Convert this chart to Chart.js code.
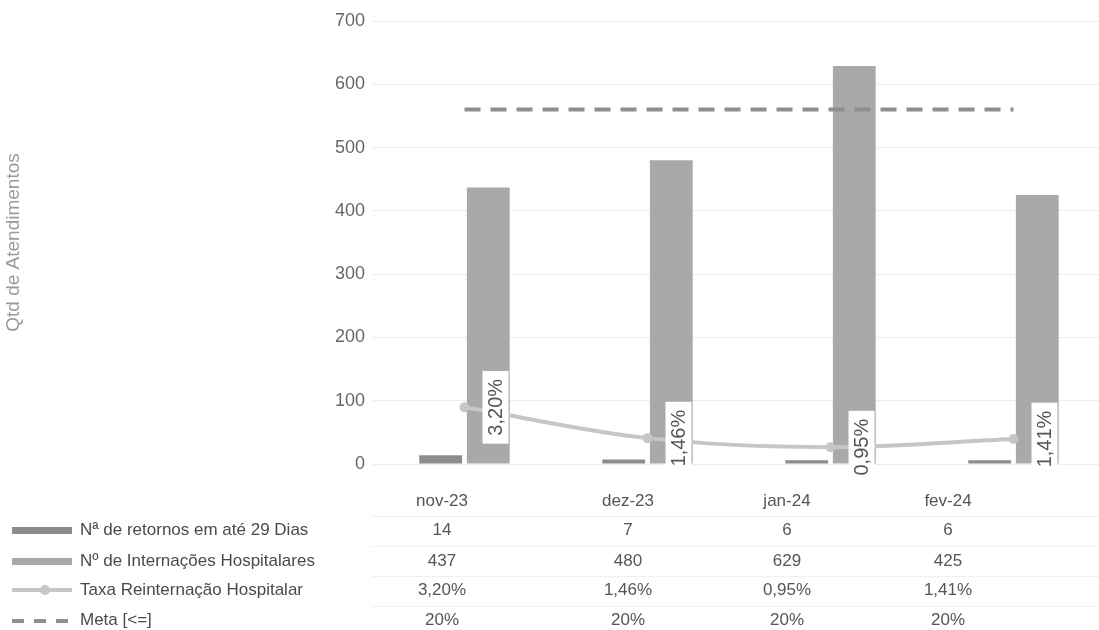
<!DOCTYPE html>
<html lang="pt-BR">
<head>
<meta charset="utf-8">
<script src="https://cdn.jsdelivr.net/npm/chart.js@4/dist/chart.umd.min.js"></script>
<style>
  html, body { margin: 0; padding: 0; background: #fff; overflow: hidden; }
  #wrap { position: relative; width: 1099px; height: 630px; overflow: hidden; }
  #grafico { position: absolute; left: 0; top: 0; }
  .linha { position: absolute; left: 0; width: 1099px; height: 30px; line-height: 30px;
           font-family: 'Liberation Sans', Arial, sans-serif; font-size: 17px; color: #555; }
  .rot { position: absolute; left: 80px; color: #4a4a4a; white-space: nowrap; }
  .cel { position: absolute; width: 120px; margin-left: -60px; text-align: center; }
  .sw { position: absolute; left: 12px; top: 12px; width: 60px; height: 7px; }
  .borda { position: absolute; left: 372px; right: 0; height: 1px; background: #f0f0f0; }
</style>
</head>
<body>
<div id="wrap">
  <canvas id="grafico" width="1110" height="630"></canvas>
  <div id="tabela"></div>
</div>
<script>
// Dados
const categorias  = ['nov-23', 'dez-23', 'jan-24', 'fev-24'];
const retornos    = [14, 7, 6, 6];
const internacoes = [437, 480, 629, 425];
const taxa        = [3.20, 1.46, 0.95, 1.41];   // %
const meta        = [20, 20, 20, 20];           // %
const ticksY      = [0, 100, 200, 300, 400, 500, 600, 700];

const nomes = {
  retornos:    'Nª de retornos em até 29 Dias',
  internacoes: 'Nº de Internações Hospitalares',
  taxa:        'Taxa Reinternação Hospitalar',
  meta:        'Meta [<=]',
};

const COR_ESCURA = '#8c8c8c';
const COR_CLARA  = '#a9a9a9';
const COR_LINHA  = '#c6c6c6';
const COR_META   = '#8e8e8e';

const fmtPct = (v, casas) => v.toLocaleString('pt-BR', { minimumFractionDigits: casas, maximumFractionDigits: casas }) + '%';

// Rótulos verticais da taxa, com fundo branco
const rotulosTaxa = {
  id: 'rotulosTaxa',
  afterDatasetsDraw(chart) {
    const ctx = chart.ctx;
    const m = chart.getDatasetMeta(2);
    ctx.save();
    ctx.font = '20px "Liberation Sans", Arial, sans-serif';
    ctx.textAlign = 'center';
    ctx.textBaseline = 'middle';
    m.data.forEach((pt, i) => {
      const txt = fmtPct(taxa[i], 2);
      const w = ctx.measureText(txt).width + 16;
      ctx.save();
      ctx.translate(pt.x + 31, pt.y);
      ctx.rotate(-Math.PI / 2);
      ctx.fillStyle = '#fff';
      ctx.fillRect(-w / 2, -13, w, 26);
      ctx.fillStyle = '#555';
      ctx.fillText(txt, 0, 1);
      ctx.restore();
    });
    ctx.restore();
  }
};

new Chart(document.getElementById('grafico'), {
  type: 'bar',
  data: {
    labels: categorias,
    datasets: [
      { label: nomes.retornos, data: retornos, backgroundColor: COR_ESCURA,
        categoryPercentage: 0.52, barPercentage: 0.9, order: 3 },
      { label: nomes.internacoes, data: internacoes, backgroundColor: COR_CLARA,
        categoryPercentage: 0.52, barPercentage: 0.9, order: 3 },
      { type: 'line', label: nomes.taxa, data: taxa, yAxisID: 'y2',
        borderColor: COR_LINHA, backgroundColor: COR_LINHA, borderWidth: 4,
        tension: 0.35, pointRadius: 5, pointBackgroundColor: COR_LINHA, pointBorderWidth: 0, order: 2 },
      { type: 'line', label: nomes.meta, data: meta, yAxisID: 'y2',
        borderColor: COR_META, borderWidth: 4, borderDash: [16, 10],
        pointRadius: 0, order: 1 },
    ],
  },
  options: {
    responsive: false,
    animation: false,
    layout: { padding: { top: 21, bottom: 166, left: 0, right: 2 } },
    plugins: { legend: { display: false }, tooltip: { enabled: false } },
    scales: {
      x: { display: false },
      y: {
        min: 0, max: 700,
        afterBuildTicks: (s) => { s.ticks = ticksY.map(v => ({ value: v })); },
        afterFit: (s) => { s.width = 373; },
        border: { display: false },
        grid: { color: '#ececec', drawTicks: false },
        ticks: { color: '#666', padding: 8, font: { family: 'Liberation Sans', size: 18 } },
        title: { display: true, text: 'Qtd de Atendimentos', color: '#9a9a9a',
                 padding: { top: 2, bottom: 0 }, font: { family: 'Liberation Sans', size: 19 } },
      },
      y2: { display: false, min: 0, max: 25 },
    },
  },
  plugins: [rotulosTaxa],
});

// Tabela de dados abaixo do gráfico
const colunasX = [442, 628, 787, 948];
const centrosY = [501, 530, 561, 590, 620];
const tabela = document.getElementById('tabela');

function linha(y, rotulo, swatch, valores) {
  const d = document.createElement('div');
  d.className = 'linha';
  d.style.top = (y - 15) + 'px';
  let html = swatch || '';
  if (rotulo) html += '<span class="rot"></span>';
  valores.forEach((v, i) => { html += '<span class="cel" style="left:' + colunasX[i] + 'px">' + v + '</span>'; });
  d.innerHTML = html;
  if (rotulo) d.querySelector('.rot').textContent = rotulo;
  tabela.appendChild(d);
}

const swEscura = '<span class="sw" style="background:' + COR_ESCURA + '"></span>';
const swClara  = '<span class="sw" style="background:' + COR_CLARA + '"></span>';
const swTaxa   = '<span class="sw" style="height:4px;top:13px;background:' + COR_LINHA + '"></span>' +
                 '<span style="position:absolute;left:40px;top:10px;width:10px;height:10px;border-radius:50%;background:' + COR_LINHA + '"></span>';
const swMeta   = '<span class="sw" style="height:4px;top:14px;background:repeating-linear-gradient(90deg,' +
                 COR_META + ' 0 12px, transparent 12px 22px)"></span>';

linha(centrosY[0], null, null, categorias);
linha(centrosY[1], nomes.retornos, swEscura, retornos.map(String));
linha(centrosY[2], nomes.internacoes, swClara, internacoes.map(String));
linha(centrosY[3], nomes.taxa, swTaxa, taxa.map(v => fmtPct(v, 2)));
linha(centrosY[4], nomes.meta, swMeta, meta.map(v => fmtPct(v, 0)));

[516, 546, 576, 606].forEach(y => {
  const b = document.createElement('div');
  b.className = 'borda';
  b.style.top = y + 'px';
  tabela.appendChild(b);
});
</script>
</body>
</html>
